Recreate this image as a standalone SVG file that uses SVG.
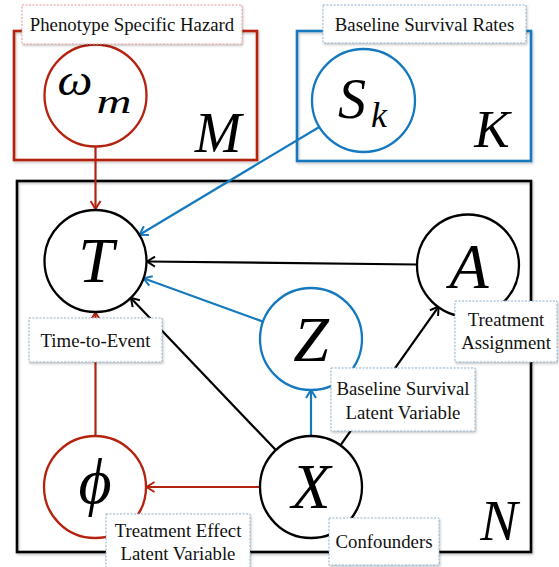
<svg xmlns="http://www.w3.org/2000/svg" width="559" height="567" viewBox="0 0 559 567">
<style>
.plate{fill:none;stroke-width:2.6}
.node{fill:#fff;stroke-width:2.3}
.r{stroke:#b42310}
.b{stroke:#1479be}
.k{stroke:#000}
.math{font-style:italic;fill:#000;text-anchor:middle}
.lbl{font-size:18.8px;fill:#111;text-anchor:middle}
.box{fill:#fff;stroke:#8fb0cc;stroke-width:1;stroke-dasharray:2 1.5}
.boxr{fill:#fff;stroke:#e39a9a;stroke-width:1;stroke-dasharray:2 1.5}
.edge{fill:none;stroke-width:2.2}
</style>
<defs>
<filter id="sh" x="-10%" y="-10%" width="120%" height="130%">
<feDropShadow dx="1" dy="1.5" stdDeviation="1.2" flood-color="#000" flood-opacity="0.25"/>
</filter>
<marker id="ak" viewBox="0 0 12 12" refX="10" refY="6" markerWidth="12" markerHeight="12" markerUnits="userSpaceOnUse" orient="auto">
<path d="M2,1 L10,6 L2,11" fill="none" stroke="#000" stroke-width="2"/>
</marker>
<marker id="ar" viewBox="0 0 12 12" refX="10" refY="6" markerWidth="12" markerHeight="12" markerUnits="userSpaceOnUse" orient="auto">
<path d="M2,1 L10,6 L2,11" fill="none" stroke="#b42310" stroke-width="2"/>
</marker>
<marker id="ab" viewBox="0 0 12 12" refX="10" refY="6" markerWidth="12" markerHeight="12" markerUnits="userSpaceOnUse" orient="auto">
<path d="M2,1 L10,6 L2,11" fill="none" stroke="#1479be" stroke-width="2"/>
</marker>
</defs>

<g font-family="'Liberation Serif', Tinos, 'Times New Roman', 'Noto Serif', 'DejaVu Serif', FreeSerif, serif">
<g id="plates">
<rect id="plate-M" class="plate r" x="14" y="31" width="243" height="129" filter="url(#sh)"/>
<rect id="plate-K" class="plate b" x="297" y="31" width="234" height="130" filter="url(#sh)"/>
<rect id="plate-N" class="plate k" x="17" y="181" width="514" height="371" stroke-width="3" filter="url(#sh)"/>
<text class="math" x="218" y="152" font-size="56">M</text>
<text class="math" x="492" y="147" font-size="53">K</text>
<text class="math" x="499" y="540" font-size="56">N</text>
</g>

<g id="connectors">
<line class="edge r" x1="95.5" y1="147" x2="95.5" y2="209" marker-end="url(#ar)"/>
<line class="edge b" x1="319.7" y1="126.7" x2="139.5" y2="234.7" marker-end="url(#ab)"/>
<line class="edge k" x1="417" y1="264.5" x2="147" y2="261.5" marker-end="url(#ak)"/>
<line class="edge b" x1="263" y1="321.6" x2="143.5" y2="278.3" marker-end="url(#ab)"/>
<line class="edge b" x1="311" y1="436" x2="311" y2="390" marker-end="url(#ab)"/>
<line class="edge k" x1="275.8" y1="450.1" x2="130.8" y2="297.9" marker-end="url(#ak)"/>
<line class="edge k" x1="340.4" y1="445.4" x2="438.6" y2="306.6" marker-end="url(#ak)"/>
<line class="edge r" x1="260" y1="487" x2="146.5" y2="487" marker-end="url(#ar)"/>
<line class="edge r" x1="95.5" y1="436" x2="95.5" y2="312.5" marker-end="url(#ar)"/>
</g>

<g id="node-omega">
<circle class="node r" cx="95.5" cy="95.5" r="51"/>
<text class="math" x="75" y="95" font-size="44" textLength="35" lengthAdjust="spacingAndGlyphs">ω</text>
<text class="math" x="114" y="113" font-size="34" textLength="35" lengthAdjust="spacingAndGlyphs">m</text>
<rect class="boxr" x="22" y="5" width="220" height="39" filter="url(#sh)"/>
<text class="lbl" x="132" y="31">Phenotype Specific Hazard</text>
</g>

<g id="node-S">
<circle class="node b" cx="363.5" cy="100.5" r="51.5"/>
<text class="math" x="352" y="118" font-size="56">S</text>
<text class="math" x="379" y="127" font-size="36">k</text>
<rect class="box" x="323" y="5" width="203" height="38" filter="url(#sh)"/>
<text class="lbl" x="424.5" y="31">Baseline Survival Rates</text>
</g>

<g id="node-T">
<circle class="node k" cx="95.5" cy="261" r="51"/>
<text class="math" x="96" y="282" font-size="64">T</text>
<rect class="box" x="29" y="318" width="133" height="44" filter="url(#sh)"/>
<text class="lbl" x="95.5" y="347">Time-to-Event</text>
</g>

<g id="node-A">
<circle class="node k" cx="468" cy="265.5" r="51"/>
<text class="math" x="469" y="288" font-size="64">A</text>
<rect class="box" x="455" y="301" width="102" height="61" filter="url(#sh)"/>
<text class="lbl" x="506" y="326">Treatment</text>
<text class="lbl" x="506" y="349">Assignment</text>
</g>

<g id="node-Z">
<circle class="node b" cx="311" cy="339" r="51"/>
<text class="math" x="311" y="361" font-size="64">Z</text>
<rect class="box" x="331" y="368" width="144" height="63" filter="url(#sh)"/>
<text class="lbl" x="403" y="395">Baseline Survival</text>
<text class="lbl" x="403" y="419">Latent Variable</text>
</g>

<g id="node-X">
<circle class="node k" cx="311" cy="487" r="51"/>
<text class="math" x="311" y="508" font-size="64">X</text>
<rect class="box" x="329" y="518" width="110" height="47" filter="url(#sh)"/>
<text class="lbl" x="384" y="548">Confounders</text>
</g>

<g id="node-phi">
<circle class="node r" cx="95" cy="487" r="51"/>
<text class="math" x="95" y="503" font-size="64">ϕ</text>
<rect class="box" x="106" y="514" width="144" height="58" filter="url(#sh)"/>
<text class="lbl" x="178" y="537">Treatment Effect</text>
<text class="lbl" x="178" y="560">Latent Variable</text>
</g>
</g>
</svg>
